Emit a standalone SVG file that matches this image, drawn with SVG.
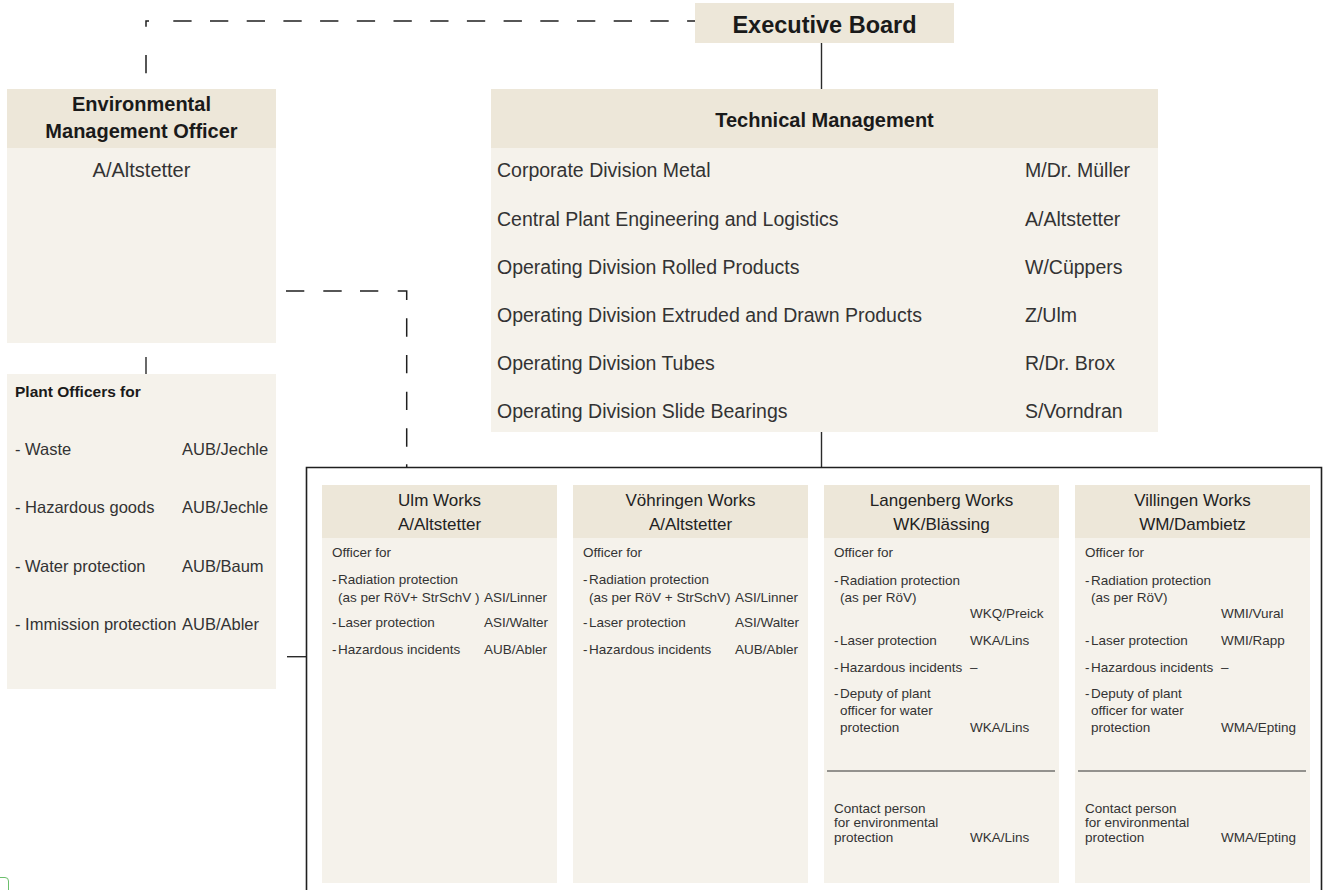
<svg xmlns="http://www.w3.org/2000/svg" width="1327" height="890" viewBox="0 0 1327 890">
  <style>
    text { font-family: "Liberation Sans", Arial, Helvetica, sans-serif; }
    .hd { fill: #EDE7D9; }
    .bd { fill: #F5F2EB; }
    .title { font-weight: bold; font-size: 20px; fill: #1a1a1a; text-anchor: middle; }
    .exec { font-weight: bold; font-size: 23.5px; fill: #1a1a1a; text-anchor: middle; }
    .row { font-size: 19.5px; fill: #333; }
    .name { font-size: 20px; fill: #333; text-anchor: middle; }
    .po { font-size: 16.5px; fill: #333; }
    .pob { font-size: 15.5px; font-weight: bold; fill: #1a1a1a; }
    .ch { font-size: 17px; fill: #222; text-anchor: middle; }
    .cs { font-size: 13.5px; fill: #333; }
    .solid { stroke: #2a2a2a; stroke-width: 1.4; fill: none; }
    .dash { stroke: #1f1f1f; stroke-width: 1.5; fill: none; }
    .sep { stroke: #333; stroke-width: 1.2; }
  </style>

  <!-- connectors -->
  <g id="connectors">
    <!-- board to environmental officer (dashed staff link) -->
    <path class="dash" d="M146,73.3V55 M146,26.7V21H149"/>
    <path class="dash" d="M173.3,21H695" stroke-dasharray="18.3 18.4"/>
    <!-- board to technical management -->
    <path class="solid" d="M821.5,43V89"/>
    <!-- environmental officer to plant officers -->
    <path class="solid" d="M146,357V374"/>
    <!-- environmental officer to works (dashed) -->
    <path class="dash" d="M286,291H304.3 M323.3,291H341.7 M360,291H378.3 M397.7,291H406.7V300 M406.7,318.3V336.7 M406.7,355V373.3 M406.7,391.7V410 M406.7,428.3V446.7 M406.7,464.3V467.5"/>
    <!-- technical management to works -->
    <path class="solid" d="M821.5,432V467.5"/>
    <!-- plant officers to works -->
    <path class="solid" d="M287,656.7H306"/>
    <!-- frame around the works -->
    <path d="M306.5,890V467.5H1321.5V890" fill="none" stroke="#1f1f1f" stroke-width="1.6"/>
  </g>

  <!-- Executive Board -->
  <g id="executive-board">
    <rect class="hd" x="695" y="3" width="259" height="40"/>
    <text class="exec" x="824.5" y="33.3">Executive Board</text>
  </g>

  <!-- Environmental Management Officer -->
  <g id="env-officer">
    <rect class="hd" x="7" y="89" width="269" height="59"/>
    <rect class="bd" x="7" y="148" width="269" height="195"/>
    <text class="title" x="141.5" y="111">Environmental</text>
    <text class="title" x="141.5" y="138.3">Management Officer</text>
    <text class="name" x="141.5" y="176.7">A/Altstetter</text>
  </g>

  <!-- Plant Officers -->
  <g id="plant-officers">
    <rect class="bd" x="7" y="374" width="269" height="315"/>
    <text class="pob" x="15" y="396.7">Plant Officers for</text>
    <text class="po">
      <tspan x="15" y="455">- Waste</tspan>
      <tspan x="182" y="455">AUB/Jechle</tspan>
      <tspan x="15" y="513.3">- Hazardous goods</tspan>
      <tspan x="182" y="513.3">AUB/Jechle</tspan>
      <tspan x="15" y="571.7">- Water protection</tspan>
      <tspan x="182" y="571.7">AUB/Baum</tspan>
      <tspan x="15" y="630">- Immission protection</tspan>
      <tspan x="182" y="630">AUB/Abler</tspan>
    </text>
  </g>

  <!-- Technical Management -->
  <g id="technical-management">
    <rect class="hd" x="491" y="89" width="667" height="59"/>
    <rect class="bd" x="491" y="148" width="667" height="284"/>
    <text class="title" x="824.5" y="127">Technical Management</text>
    <text class="row">
      <tspan x="497" y="177">Corporate Division Metal</tspan>
      <tspan x="1025" y="177">M/Dr. Müller</tspan>
      <tspan x="497" y="225.5">Central Plant Engineering and Logistics</tspan>
      <tspan x="1025" y="225.5">A/Altstetter</tspan>
      <tspan x="497" y="273.5">Operating Division Rolled Products</tspan>
      <tspan x="1025" y="273.5">W/Cüppers</tspan>
      <tspan x="497" y="322">Operating Division Extruded and Drawn Products</tspan>
      <tspan x="1025" y="322">Z/Ulm</tspan>
      <tspan x="497" y="370">Operating Division Tubes</tspan>
      <tspan x="1025" y="370">R/Dr. Brox</tspan>
      <tspan x="497" y="418">Operating Division Slide Bearings</tspan>
      <tspan x="1025" y="418">S/Vorndran</tspan>
    </text>
  </g>

  <!-- Ulm Works -->
  <g id="ulm-works" transform="translate(322,0)">
    <rect class="hd" x="0" y="485" width="235" height="53"/>
    <rect class="bd" x="0" y="538" width="235" height="345"/>
    <text class="ch" x="117.5" y="505.5">Ulm Works</text>
    <text class="ch" x="117.5" y="530">A/Altstetter</text>
    <text class="cs">
      <tspan x="10" y="557">Officer for</tspan>
      <tspan x="10" y="584.3">-</tspan><tspan x="16" y="584.3">Radiation protection</tspan>
      <tspan x="16" y="601.7">(as per RöV+ StrSchV )</tspan>
      <tspan x="162" y="601.7">ASI/Linner</tspan>
      <tspan x="10" y="626.7">-</tspan><tspan x="16" y="626.7">Laser protection</tspan>
      <tspan x="162" y="626.7">ASI/Walter</tspan>
      <tspan x="10" y="654">-</tspan><tspan x="16" y="654">Hazardous incidents</tspan>
      <tspan x="162" y="654">AUB/Abler</tspan>
    </text>
  </g>

  <!-- Vöhringen Works -->
  <g id="voehringen-works" transform="translate(573,0)">
    <rect class="hd" x="0" y="485" width="235" height="53"/>
    <rect class="bd" x="0" y="538" width="235" height="345"/>
    <text class="ch" x="117.5" y="505.5">Vöhringen Works</text>
    <text class="ch" x="117.5" y="530">A/Altstetter</text>
    <text class="cs">
      <tspan x="10" y="557">Officer for</tspan>
      <tspan x="10" y="584.3">-</tspan><tspan x="16" y="584.3">Radiation protection</tspan>
      <tspan x="16" y="601.7">(as per RöV + StrSchV)</tspan>
      <tspan x="162" y="601.7">ASI/Linner</tspan>
      <tspan x="10" y="626.7">-</tspan><tspan x="16" y="626.7">Laser protection</tspan>
      <tspan x="162" y="626.7">ASI/Walter</tspan>
      <tspan x="10" y="654">-</tspan><tspan x="16" y="654">Hazardous incidents</tspan>
      <tspan x="162" y="654">AUB/Abler</tspan>
    </text>
  </g>

  <!-- Langenberg Works -->
  <g id="langenberg-works" transform="translate(824,0)">
    <rect class="hd" x="0" y="485" width="235" height="53"/>
    <rect class="bd" x="0" y="538" width="235" height="345"/>
    <text class="ch" x="117.5" y="505.5">Langenberg Works</text>
    <text class="ch" x="117.5" y="530">WK/Blässing</text>
    <text class="cs">
      <tspan x="10" y="557">Officer for</tspan>
      <tspan x="10" y="585">-</tspan><tspan x="16" y="585">Radiation protection</tspan>
      <tspan x="16" y="601.7">(as per RöV)</tspan>
      <tspan x="146" y="618.3">WKQ/Preick</tspan>
      <tspan x="10" y="645">-</tspan><tspan x="16" y="645">Laser protection</tspan>
      <tspan x="146" y="645">WKA/Lins</tspan>
      <tspan x="10" y="672.3">-</tspan><tspan x="16" y="672.3">Hazardous incidents</tspan>
      <tspan x="146" y="672.3">–</tspan>
      <tspan x="10" y="698.3">-</tspan><tspan x="16" y="698.3">Deputy of plant</tspan>
      <tspan x="16" y="715">officer for water</tspan>
      <tspan x="16" y="731.7">protection</tspan>
      <tspan x="146" y="731.7">WKA/Lins</tspan>
    </text>
    <line class="sep" x1="3" y1="771" x2="231" y2="771"/>
    <text class="cs">
      <tspan x="10" y="813.3">Contact person</tspan>
      <tspan x="10" y="827">for environmental</tspan>
      <tspan x="10" y="841.7">protection</tspan>
      <tspan x="146" y="841.7">WKA/Lins</tspan>
    </text>
  </g>

  <!-- Villingen Works -->
  <g id="villingen-works" transform="translate(1075,0)">
    <rect class="hd" x="0" y="485" width="235" height="53"/>
    <rect class="bd" x="0" y="538" width="235" height="345"/>
    <text class="ch" x="117.5" y="505.5">Villingen Works</text>
    <text class="ch" x="117.5" y="530">WM/Dambietz</text>
    <text class="cs">
      <tspan x="10" y="557">Officer for</tspan>
      <tspan x="10" y="585">-</tspan><tspan x="16" y="585">Radiation protection</tspan>
      <tspan x="16" y="601.7">(as per RöV)</tspan>
      <tspan x="146" y="618.3">WMI/Vural</tspan>
      <tspan x="10" y="645">-</tspan><tspan x="16" y="645">Laser protection</tspan>
      <tspan x="146" y="645">WMI/Rapp</tspan>
      <tspan x="10" y="672.3">-</tspan><tspan x="16" y="672.3">Hazardous incidents</tspan>
      <tspan x="146" y="672.3">–</tspan>
      <tspan x="10" y="698.3">-</tspan><tspan x="16" y="698.3">Deputy of plant</tspan>
      <tspan x="16" y="715">officer for water</tspan>
      <tspan x="16" y="731.7">protection</tspan>
      <tspan x="146" y="731.7">WMA/Epting</tspan>
    </text>
    <line class="sep" x1="3" y1="771" x2="231" y2="771"/>
    <text class="cs">
      <tspan x="10" y="813.3">Contact person</tspan>
      <tspan x="10" y="827">for environmental</tspan>
      <tspan x="10" y="841.7">protection</tspan>
      <tspan x="146" y="841.7">WMA/Epting</tspan>
    </text>
  </g>

  <!-- small green corner at the lower left edge -->
  <path d="M0,877.5H5Q8.5,877.5 8.5,881V890" fill="none" stroke="#6cbf6c" stroke-width="1"/>
</svg>
